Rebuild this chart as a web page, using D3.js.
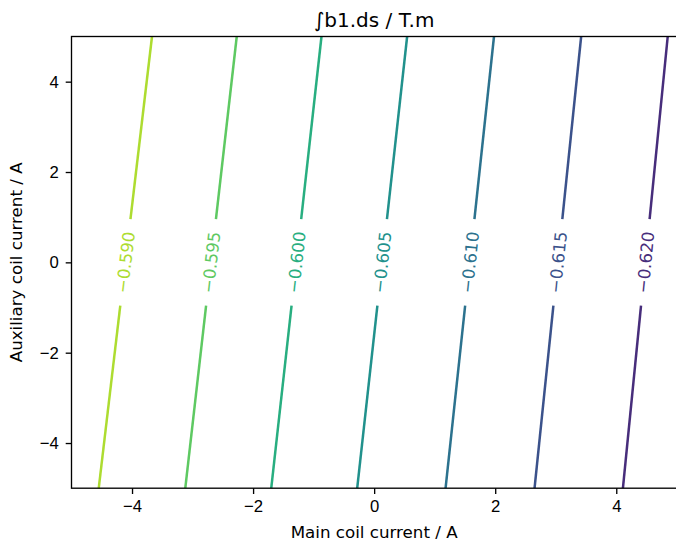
<!DOCTYPE html>
<html>
<head>
<meta charset="utf-8">
<script src="https://cdn.jsdelivr.net/npm/d3@7"></script>
<style>
  body { margin: 0; background: #fff; }
  svg { display: block; font-family: "DejaVu Sans", sans-serif; }
  .tick text { font-size: 16.7px; fill: #000; }
  .tick line { stroke: #000; stroke-width: 1.33; }
</style>
</head>
<body>
<svg id="chart" width="676" height="542"></svg>
<script>
// contour levels and where each line crosses the top (y = 5) and bottom (y = -5) of the plot
const levels = [-0.620, -0.615, -0.610, -0.605, -0.600, -0.595, -0.590];
const xAtTop = [4.85, 3.42, 1.98, 0.545, -0.87, -2.27, -3.67];
const xAtBottom = [4.11, 2.65, 1.18, -0.28, -1.70, -3.12, -4.55];
const yEdges = [5, -5];
const labelY = 0;
const xTicks = [-4, -2, 0, 2, 4];
const yTicks = [-4, -2, 0, 2, 4];

const svg = d3.select('#chart');
const plotLeft = 71.5, plotRight = 676.8, plotTop = 36.5, plotBottom = 488.2;

const x = d3.scaleLinear().domain([-5, 5]).range([plotLeft, plotRight]);
const y = d3.scaleLinear().domain([-5, 5]).range([plotBottom, plotTop]);
const color = d3.scaleSequential(d3.interpolateViridis).domain([-0.625, -0.585]);
const fmt = d => d < 0 ? '\u2212' + Math.abs(d) : String(d);
const labelFmt = d => '\u2212' + Math.abs(d).toFixed(3);

const plot = svg.append('g');
const halfGap = 43.5;

levels.forEach((level, i) => {
    const p0 = [x(xAtTop[i]), y(yEdges[0])];
    const p1 = [x(xAtBottom[i]), y(yEdges[1])];
    const t = (yEdges[0] - labelY) / (yEdges[0] - yEdges[1]);
    const c = [p0[0] + (p1[0] - p0[0]) * t, p0[1] + (p1[1] - p0[1]) * t];
    const len = Math.hypot(p1[0] - p0[0], p1[1] - p0[1]);
    const u = [(p1[0] - p0[0]) / len, (p1[1] - p0[1]) / len];
    const a = [c[0] - u[0] * halfGap, c[1] - u[1] * halfGap];
    const b = [c[0] + u[0] * halfGap, c[1] + u[1] * halfGap];
    const col = color(level);
    [[p0, a], [b, p1]].forEach(seg => {
        plot.append('line')
            .attr('x1', seg[0][0]).attr('y1', seg[0][1])
            .attr('x2', seg[1][0]).attr('y2', seg[1][1])
            .attr('stroke', col)
            .attr('stroke-width', 2.5);
    });
    const angle = Math.atan2(p0[1] - p1[1], p0[0] - p1[0]) * 180 / Math.PI;
    plot.append('text')
        .attr('transform', `translate(${c[0]},${c[1]}) rotate(${angle})`)
        .attr('text-anchor', 'middle')
        .attr('dominant-baseline', 'central')
        .attr('font-size', '16.7px')
        .attr('fill', col)
        .text(labelFmt(level));
});

const xAxis = svg.append('g')
    .attr('transform', `translate(0,${plotBottom})`)
    .call(d3.axisBottom(x).tickValues(xTicks).tickFormat(fmt).tickSize(5.8).tickPadding(5.8));
xAxis.select('.domain').remove();

const yAxis = svg.append('g')
    .attr('transform', `translate(${plotLeft},0)`)
    .call(d3.axisLeft(y).tickValues(yTicks).tickFormat(fmt).tickSize(5.8).tickPadding(7));
yAxis.select('.domain').remove();

svg.append('rect')
    .attr('x', plotLeft).attr('y', plotTop)
    .attr('width', plotRight - plotLeft).attr('height', plotBottom - plotTop)
    .attr('fill', 'none')
    .attr('stroke', '#000')
    .attr('stroke-width', 1.33);

svg.append('text')
    .attr('x', (plotLeft + plotRight) / 2).attr('y', 27)
    .attr('text-anchor', 'middle')
    .attr('font-size', '20px')
    .text('\u222Bb1.ds / T.m');

svg.append('text')
    .attr('x', (plotLeft + plotRight) / 2).attr('y', 538)
    .attr('text-anchor', 'middle')
    .attr('font-size', '16.7px')
    .text('Main coil current / A');

svg.append('text')
    .attr('transform', `translate(22,${(plotTop + plotBottom) / 2}) rotate(-90)`)
    .attr('text-anchor', 'middle')
    .attr('font-size', '16.7px')
    .text('Auxiliary coil current / A');
</script>
</body>
</html>
